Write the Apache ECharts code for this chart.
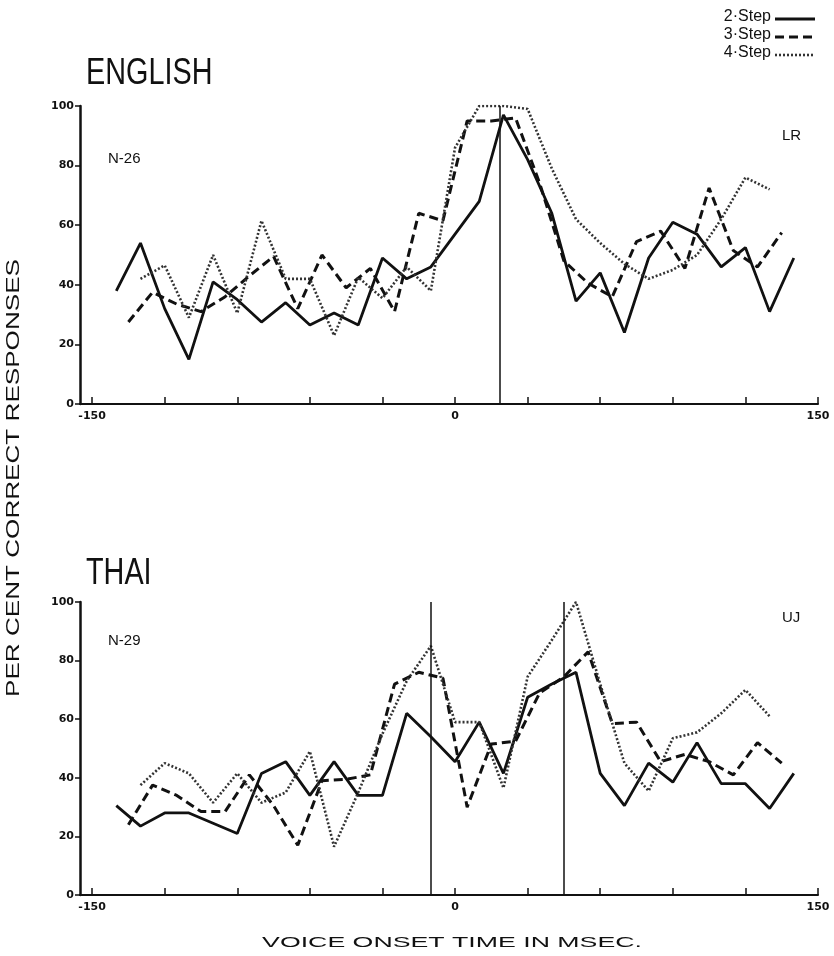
<!DOCTYPE html>
<html><head><meta charset="utf-8">
<script src="https://cdn.jsdelivr.net/npm/echarts@6/dist/echarts.min.js"></script>
<style>html,body{margin:0;padding:0;background:#fff}#c{width:834px;height:956px}</style>
</head><body><div id="c"></div>
<script>
// ---- data (ms, per cent correct) ----
const xTicks = [-150, -120, -90, -60, -30, 0, 30, 60, 90, 120, 150];
const xTickLabels = [-150, 0, 150];
const yTicks = [0, 20, 40, 60, 80, 100];

const engX2 = [-140,-130,-120,-110,-100,-90,-80,-70,-60,-50,-40,-30,-20,-10,0,10,20,30,40,50,60,70,80,90,100,110,120,130,140];
const eng2  = [38,54,32,15,41,35,27.5,34,26.5,30.5,26.5,49,42,46,57,68,97,82,64,34.5,44,24,49,61,57,46,52.5,31,49];
const engX3 = [-135,-125,-115,-105,-95,-85,-75,-65,-55,-45,-35,-25,-15,-5,5,15,25,35,45,55,65,75,85,95,105,115,125,135];
const eng3  = [27.5,37.5,33.5,31,36,43,49.5,32,50,39,45.5,31,64,61.5,95,95,96,74,48,40.5,36,54.5,58,45.5,72.5,51.5,46,57.5];
const engX4 = [-130,-120,-110,-100,-90,-80,-70,-60,-50,-40,-30,-20,-10,0,10,20,30,40,50,60,70,80,90,100,110,120,130];
const eng4  = [42,46.5,29,50,30.5,61.5,42,42,23,42.5,35.5,46,38,86,100,100,99,79,62,54,47,42,45,50,62,76,72];
const engRef = [18.5];

const thaiX2 = [-140,-130,-120,-110,-100,-90,-80,-70,-60,-50,-40,-30,-20,-10,0,10,20,30,40,50,60,70,80,90,100,110,120,130,140];
const thai2  = [30.5,23.5,28,28,24.5,21,41.5,45.5,34,45.5,34,34,62,54,45.5,59,41.5,67.5,72,76,41.5,30.5,45,38.5,52,38,38,29.5,41.5];
const thaiX3 = [-135,-125,-115,-105,-95,-85,-75,-65,-55,-45,-35,-25,-15,-5,5,15,25,35,45,55,65,75,85,95,105,115,125,135];
const thai3  = [24,37.5,34,28.5,28.5,41,30.5,17,39,39.5,41,72,76,74,30,51.5,52.5,69,74.5,83,58.5,59,45.5,48,45.5,41,52,45];
const thaiX4 = [-130,-120,-110,-100,-90,-80,-70,-60,-50,-40,-30,-20,-10,0,10,20,30,40,50,60,70,80,90,100,110,120,130];
const thai4  = [37.5,45,41.5,31.5,41.5,31.5,35,49,16.5,35,55,73,85,59,59,36.5,74.5,87,100,72,45,35.5,53.5,55.5,62,70,61];
const thaiRef = [-10, 45];

const seriesNames = ['2-Step', '3-Step', '4-Step'];
const legendLabels = ['2·Step', '3·Step', '4·Step'];

// ---- chart ----
const INK = '#111';
const zip = (xs, ys) => xs.map((x, i) => [x, ys[i]]);
const styles = [
  {type: 'solid', width: 2.8, color: INK},
  {type: [9, 5], width: 3, color: INK},
  {type: [2, 2], width: 2.6, color: '#333'}
];
function mk(name, xs, ys, gi, refs) {
  const idx = seriesNames.indexOf(name);
  const s = {
    name, type: 'line', xAxisIndex: gi, yAxisIndex: gi,
    data: zip(xs, ys), symbol: 'none', lineStyle: styles[idx],
    itemStyle: {color: styles[idx].color}, silent: true
  };
  if (refs) {
    s.markLine = {
      symbol: 'none', silent: true, label: {show: false},
      lineStyle: {type: 'solid', color: INK, width: 1.5},
      data: refs.map(v => ({xAxis: v}))
    };
  }
  return s;
}
function xAx(gi) {
  return {
    type: 'value', gridIndex: gi, min: -155, max: 150,
    axisLine: {onZero: false, lineStyle: {color: INK, width: 2}},
    axisTick: {customValues: xTicks, inside: true, length: 7, lineStyle: {color: INK, width: 1.5}},
    axisLabel: {customValues: xTickLabels, fontSize: 11, fontWeight: 'bold', color: INK, margin: 7, fontFamily: 'DejaVu Sans'},
    splitLine: {show: false}
  };
}
function yAx(gi) {
  return {
    type: 'value', gridIndex: gi, min: 0, max: 100, interval: 20,
    axisLine: {show: true, onZero: false, lineStyle: {color: INK, width: 2.5}},
    axisTick: {show: true, length: 5, lineStyle: {color: INK, width: 1.5}},
    axisLabel: {fontSize: 11, fontWeight: 'bold', color: INK, margin: 6, fontFamily: 'DejaVu Sans'},
    splitLine: {show: false}
  };
}
const legendGraphics = [];
legendLabels.forEach((lab, i) => {
  const cy = 17 + i * 18;
  legendGraphics.push({type: 'text', x: 771, y: cy, silent: true,
    style: {text: lab, font: '16px "Liberation Sans"', fill: INK, textAlign: 'right', textVerticalAlign: 'middle'}});
  const st = styles[i];
  legendGraphics.push({type: 'line', silent: true,
    shape: {x1: 775, y1: cy + 2, x2: 815, y2: cy + 2},
    style: {stroke: st.color, lineWidth: st.width, lineDash: st.type === 'solid' ? null : st.type}});
});

const chart = echarts.init(document.getElementById('c'), null, {renderer: 'canvas'});
chart.setOption({
  animation: false,
  backgroundColor: '#fff',
  grid: [
    {left: 80, right: 16, top: 106, height: 298},
    {left: 80, right: 16, top: 602, height: 293}
  ],
  xAxis: [xAx(0), xAx(1)],
  yAxis: [yAx(0), yAx(1)],
  graphic: legendGraphics.concat([
    {type: 'text', x: 86, y: 56, scaleX: 0.8, silent: true,
     style: {text: 'ENGLISH', font: '36px "Liberation Sans"', fill: INK, textVerticalAlign: 'top'}},
    {type: 'text', x: 86, y: 556, scaleX: 0.8, silent: true,
     style: {text: 'THAI', font: '36px "Liberation Sans"', fill: INK, textVerticalAlign: 'top'}},
    {type: 'text', x: 108, y: 151, silent: true,
     style: {text: 'N-26', font: '15px "Liberation Sans"', fill: INK, textVerticalAlign: 'top'}},
    {type: 'text', x: 108, y: 633, silent: true,
     style: {text: 'N-29', font: '15px "Liberation Sans"', fill: INK, textVerticalAlign: 'top'}},
    {type: 'text', x: 782, y: 128, silent: true,
     style: {text: 'LR', font: '15px "Liberation Sans"', fill: INK, textVerticalAlign: 'top'}},
    {type: 'text', x: 782, y: 610, silent: true,
     style: {text: 'UJ', font: '15px "Liberation Sans"', fill: INK, textVerticalAlign: 'top'}},
    {type: 'text', x: 14, y: 478, rotation: Math.PI / 2, scaleX: 1.45, silent: true,
     style: {text: 'PER CENT CORRECT RESPONSES', font: '18px "Liberation Sans"', fill: INK, textAlign: 'center', textVerticalAlign: 'middle'}},
    {type: 'text', x: 452, y: 943, scaleX: 1.78, silent: true,
     style: {text: 'VOICE ONSET TIME IN MSEC.', font: '15px "Liberation Sans"', fill: INK, textAlign: 'center', textVerticalAlign: 'middle'}}
  ]),
  series: [
    mk('2-Step', engX2, eng2, 0, engRef),
    mk('3-Step', engX3, eng3, 0),
    mk('4-Step', engX4, eng4, 0),
    mk('2-Step', thaiX2, thai2, 1, thaiRef),
    mk('3-Step', thaiX3, thai3, 1),
    mk('4-Step', thaiX4, thai4, 1)
  ]
});
</script>
</body></html>
